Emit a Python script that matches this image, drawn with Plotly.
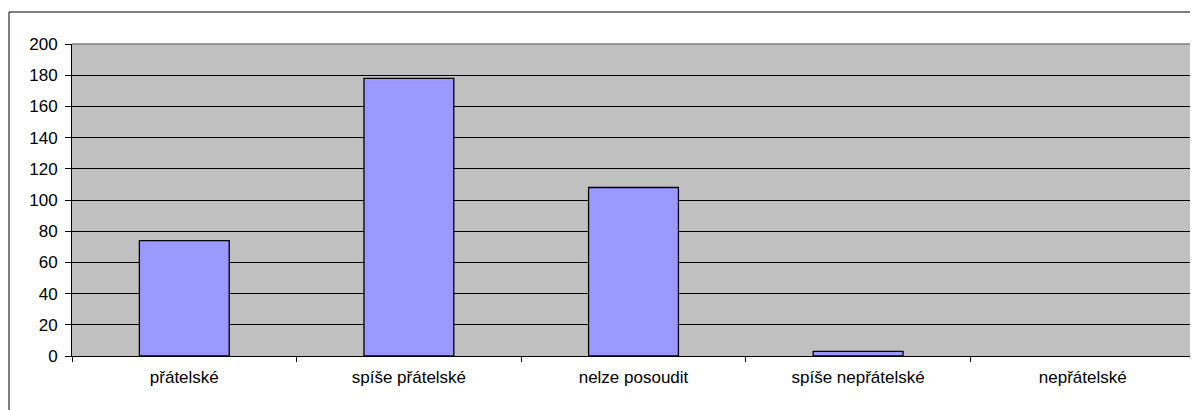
import plotly.graph_objects as go

# categories and counts
categories = ["přátelské", "spíše přátelské", "nelze posoudit", "spíše nepřátelské", "nepřátelské"]
counts = [74, 178, 108, 3, 0]
y_ticks = list(range(0, 201, 20))

# the page body has an 8px margin, so the figure starts at (8, 8)
W, H = 1190, 402
L, R, T, B = 64, 3, 36, 54
pw, ph = W - L - R, H - T - B

# empty bars get no outline (Excel draws nothing for them)
outline = ["black" if v > 0 else "rgba(0,0,0,0)" for v in counts]

fig = go.Figure(go.Bar(
    x=categories, y=counts,
    width=0.4,
    marker=dict(color="#9999FF", line=dict(color=outline, width=1.3)),
))

font = dict(family="Liberation Sans, Arial, sans-serif", size=17, color="black")

fig.update_layout(
    width=W, height=H,
    margin=dict(l=L, r=R, t=T, b=B),
    paper_bgcolor="white",
    plot_bgcolor="#C0C0C0",
    font=font,
    showlegend=False,
    shapes=[
        # outer chart border
        dict(type="rect", xref="paper", yref="paper",
             x0=(1 - L) / pw, x1=(W + 5 - L) / pw,
             y0=-(B + 5) / ph, y1=1 + (T - 4) / ph,
             line=dict(color="black", width=1), layer="below"),
        # plot area frame top/right
        dict(type="line", xref="paper", yref="paper", x0=0, x1=1, y0=1, y1=1,
             line=dict(color="#808080", width=1.5)),
        dict(type="line", xref="paper", yref="paper", x0=1, x1=1, y0=0, y1=1,
             line=dict(color="#808080", width=1.5)),
    ],
)

fig.update_xaxes(
    type="category",
    tickson="boundaries",
    ticks="outside", ticklen=5, tickcolor="black",
    showline=True, linecolor="black", linewidth=1,
    showgrid=False,
    ticklabelstandoff=6,
    range=[-0.5, 4.5],
)
fig.update_yaxes(
    range=[0, 200],
    tickvals=y_ticks,
    ticks="outside", ticklen=6, tickcolor="black",
    showline=True, linecolor="black", linewidth=1,
    showgrid=True, gridcolor="black", gridwidth=1,
    zeroline=False,
    ticklabelstandoff=4,
)

fig.write_html("out.html")
